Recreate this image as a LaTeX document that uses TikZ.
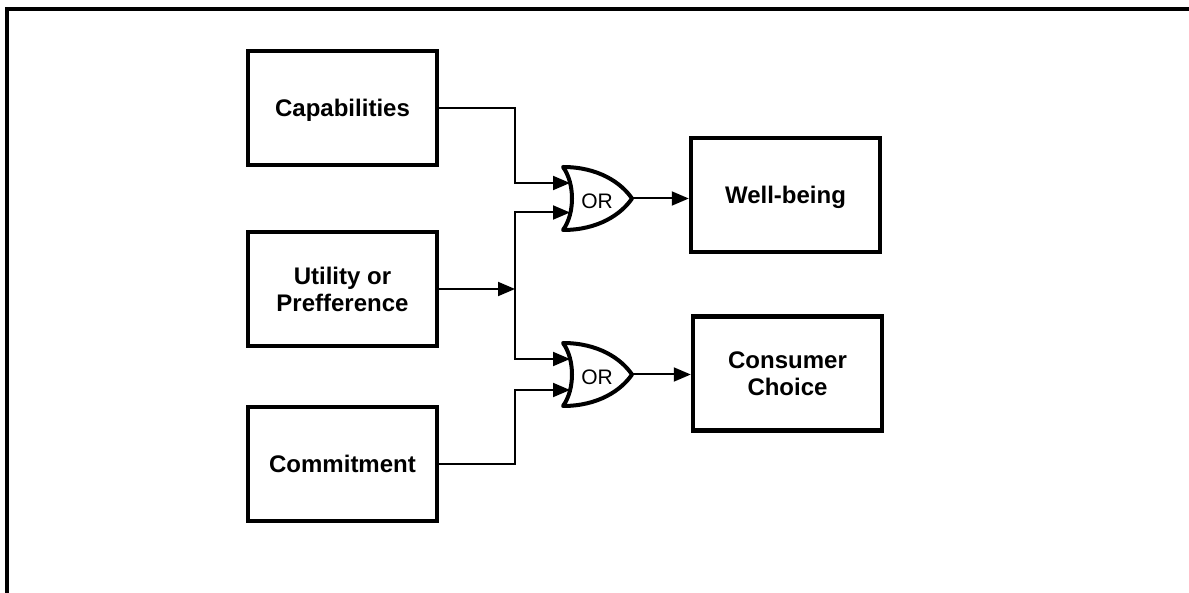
\documentclass[tikz,border=0pt]{standalone}
\usepackage{fontspec}
\setmainfont{Liberation Sans}
\usetikzlibrary{arrows.meta}
\begin{document}
\begin{tikzpicture}[x=1pt,y=-1pt,
  box/.style={draw, line width=4.5pt, minimum width=189pt, minimum height=114pt, align=center,
    font=\fontsize{24}{27}\selectfont\bfseries, inner sep=0pt, text depth=0pt},
  conn/.style={line width=2pt},
  tip/.tip={Triangle[length=17pt,width=14pt]},
  arr/.style={conn, -tip},
  biarr/.style={conn, tip-tip},
  gate/.style={line width=4pt, line join=round},
  gatelabel/.style={font=\fontsize{21}{21}\selectfont, inner sep=0pt},
  frame/.style={line width=4pt}]
\useasboundingbox (0,0) rectangle (1189,593);
% frame
\draw[frame] (7,593) -- (7,9) -- (1189,9);
% boxes
\node[box] (cap)  at (342.5,108)   {Capabilities};
\node[box] (util) at (342.5,289)   {Utility or\\Prefference};
\node[box] (com)  at (342.5,464)   {Commitment};
\node[box] (wb)   at (785.5,195)   {Well-being};
\node[box] (cc)   at (787.5,373.5) {Consumer\\Choice};
% OR gate 1
\begin{scope}[shift={(563,198.5)}]
  \draw[gate] (0,-31.5) .. controls (35,-31.5) and (58,-16) .. (69,0)
              .. controls (58,16) and (35,31.5) .. (0,31.5)
              .. controls (12,15) and (12,-15) .. cycle;
  \coordinate (g1in1) at (7,-15.5);
  \coordinate (g1in2) at (7,14);
  \coordinate (g1out) at (69,0);
\end{scope}
\node[gatelabel] (g1) at (597,201) {OR};
% OR gate 2
\begin{scope}[shift={(563,374.5)}]
  \draw[gate] (0,-31.5) .. controls (35,-31.5) and (58,-16) .. (69,0)
              .. controls (58,16) and (35,31.5) .. (0,31.5)
              .. controls (12,15) and (12,-15) .. cycle;
  \coordinate (g2in1) at (7,-15.5);
  \coordinate (g2in2) at (7,15.5);
  \coordinate (g2out) at (69,0);
\end{scope}
\node[gatelabel] (g2) at (597,377) {OR};
% bus
\coordinate (bus) at (515,289);
% connectors
\draw[arr] (cap.east) -| (bus |- g1in1) -- (g1in1);
\draw[arr] (util.east) -- (bus);
\draw[biarr] (g1in2) -- (g1in2 -| bus) -- (g2in1 -| bus) -- (g2in1);
\draw[arr] (com.east) -| (bus |- g2in2) -- (g2in2);
\draw[arr] (g1out) -- (g1out -| wb.west);
\draw[arr] (g2out) -- (g2out -| cc.west);
\end{tikzpicture}
\end{document}
